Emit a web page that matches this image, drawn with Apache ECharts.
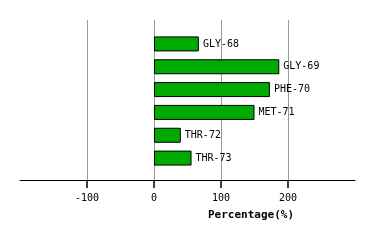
<!DOCTYPE html>
<html>
<head>
<meta charset="utf-8">
<script src="https://cdn.jsdelivr.net/npm/echarts@6/dist/echarts.min.js"></script>
<style>html,body{margin:0;padding:0;background:#fff}#c{width:374px;height:241px}</style>
</head>
<body>
<div id="c"></div>
<script>
var categories = ['GLY-68', 'GLY-69', 'PHE-70', 'MET-71', 'THR-72', 'THR-73'];
var values = [67, 187, 173, 150, 40, 56];
var tickValues = [-100, 0, 100, 200];
var axisTitle = 'Percentage(%)';

var FONT = '"DejaVu Sans Mono", "Liberation Mono", monospace';
var chart = echarts.init(document.getElementById('c'), null, {renderer: 'canvas'});
chart.setOption({
  animation: false,
  backgroundColor: '#fff',
  title: {
    text: axisTitle,
    left: 208, top: 210,
    padding: 0,
    textStyle: {fontFamily: FONT, fontSize: 11, fontWeight: 'bold', color: '#000'}
  },
  grid: [
    {left: 20, right: 19, top: 20, height: 160, containLabel: false},
    {left: 20, right: 19, top: 32.5, height: 137, containLabel: false}
  ],
  xAxis: [
    {
      gridIndex: 0, type: 'value', min: -200, max: 300, interval: 100,
      axisLine: {show: true, lineStyle: {color: '#000', width: 1}},
      axisTick: {show: true, inside: false, length: 8, customValues: tickValues, lineStyle: {color: '#000', width: 1.5}},
      axisLabel: {show: true, customValues: tickValues, margin: 13, fontFamily: FONT, fontSize: 10, color: '#000'},
      splitLine: {show: true, lineStyle: {color: '#999', width: 1}}
    },
    {
      gridIndex: 1, type: 'value', min: -200, max: 300, interval: 100,
      axisLine: {show: false}, axisTick: {show: false}, axisLabel: {show: false}, splitLine: {show: false}
    }
  ],
  yAxis: [
    {gridIndex: 0, type: 'category', data: categories, show: false},
    {
      gridIndex: 1, type: 'category', data: categories, inverse: true,
      axisLine: {show: false}, axisTick: {show: false}, axisLabel: {show: false}, splitLine: {show: false}
    }
  ],
  series: [{
    type: 'bar',
    xAxisIndex: 1, yAxisIndex: 1,
    data: values,
    barWidth: 15,
    itemStyle: {color: '#00aa00', borderColor: '#000', borderWidth: 1},
    label: {
      show: true, position: 'right', distance: 4,
      formatter: function (p) { return p.name; },
      fontFamily: FONT, fontSize: 10, color: '#000'
    }
  }]
});
</script>
</body>
</html>
